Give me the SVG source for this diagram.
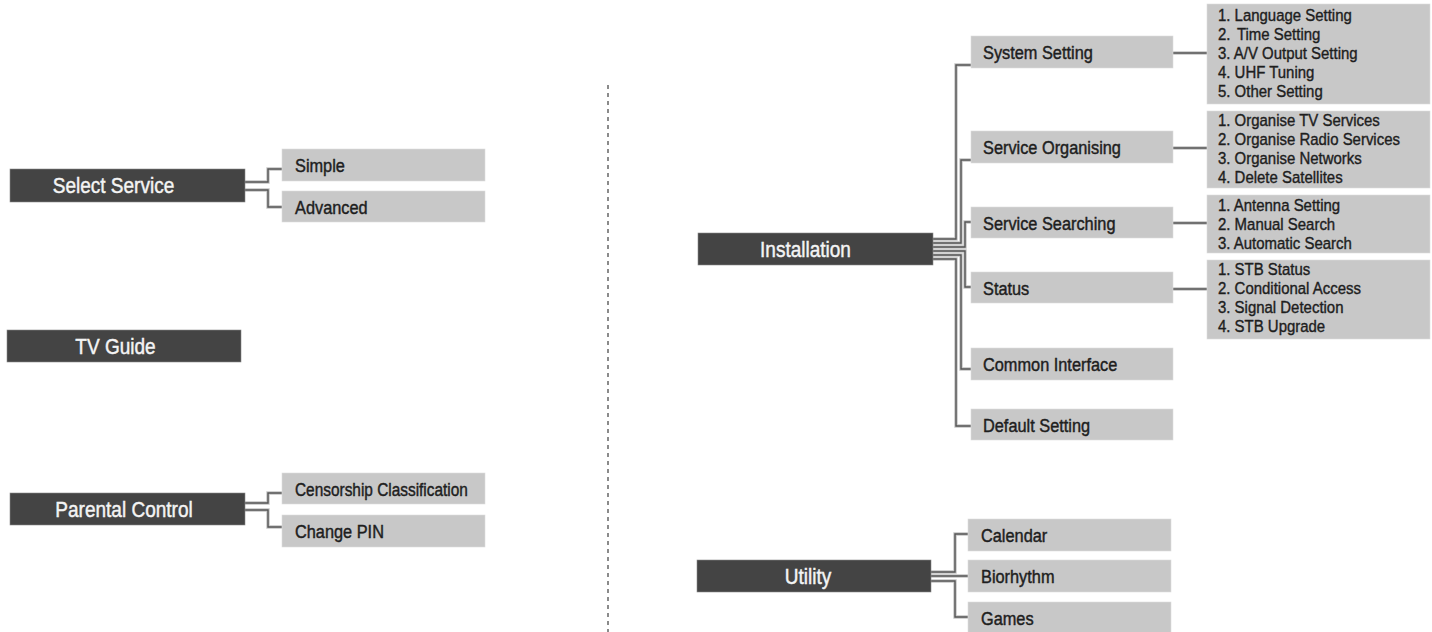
<svg xmlns="http://www.w3.org/2000/svg" width="1432" height="632" viewBox="0 0 1432 632">
<style>
.dk{fill:#444;stroke:#8a8a8a;stroke-width:.6}
.lt{fill:#c8c8c8;stroke:#dcdcdc;stroke-width:.6}
.w{font-family:"Liberation Sans",Arial,sans-serif;font-size:22px;fill:#f4f4f4;stroke:#f4f4f4;stroke-width:.45;text-anchor:middle}
.b{font-family:"Liberation Sans",Arial,sans-serif;font-size:19px;fill:#1e1e1e;stroke:#1e1e1e;stroke-width:.45}
.li{font-family:"Liberation Sans",Arial,sans-serif;font-size:17px;fill:#1e1e1e;stroke:#1e1e1e;stroke-width:.4}
.halo{fill:none;stroke:#c4c4c4;stroke-width:3.4}
.core{fill:none;stroke:#555;stroke-width:1.4}
</style>
<defs>
<g id="conpaths">
<path d="M245,182H268V169H282M245,190H268V207H282"/>
<path d="M245,503H268V493H282M245,510H268V527H282"/>
<path d="M933,239H956V65H971M933,243H961V160H971M933,247H965V222H971M933,251H965V287H971M933,255H961V369H971M933,259H956V426H971"/>
<path d="M931,572H955V534H968M931,576H968M931,581H955V617H968"/>
<path d="M1173,53H1207M1173,148H1207M1173,223H1207M1173,289H1207"/>
</g>
</defs>
<g id="connectors">
<use href="#conpaths" class="halo"/>
<use href="#conpaths" class="core"/>
<line x1="608" y1="85" x2="608" y2="632" stroke="#666" stroke-width="1.5" stroke-dasharray="4 4"/>
</g>
<g id="select-service"><rect class="dk" x="10" y="169" width="235" height="33"/><text class="w" transform="translate(113.5,193) scale(.865,1)">Select Service</text></g>
<g id="simple"><rect class="lt" x="282" y="149" width="203" height="32"/><text class="b" transform="translate(295,172) scale(.86,1)">Simple</text></g>
<g id="advanced"><rect class="lt" x="282" y="191" width="203" height="31"/><text class="b" transform="translate(295,214) scale(.86,1)">Advanced</text></g>
<g id="tv-guide"><rect class="dk" x="7" y="330" width="234" height="32"/><text class="w" transform="translate(115.5,354) scale(.865,1)">TV Guide</text></g>
<g id="parental-control"><rect class="dk" x="10" y="493" width="235" height="32"/><text class="w" transform="translate(124,517) scale(.865,1)">Parental Control</text></g>
<g id="censorship"><rect class="lt" x="282" y="473" width="203" height="31"/><text class="b" transform="translate(295,496) scale(.86,1)" textLength="201" lengthAdjust="spacingAndGlyphs">Censorship Classification</text></g>
<g id="change-pin"><rect class="lt" x="282" y="515" width="203" height="32"/><text class="b" transform="translate(295,538) scale(.86,1)">Change PIN</text></g>
<g id="installation"><rect class="dk" x="698" y="233" width="235" height="32"/><text class="w" transform="translate(805.5,257) scale(.865,1)">Installation</text></g>
<g id="system-setting"><rect class="lt" x="971" y="36" width="202" height="32"/><text class="b" transform="translate(983,59) scale(.86,1)">System Setting</text></g>
<g id="service-organising"><rect class="lt" x="971" y="131" width="202" height="32"/><text class="b" transform="translate(983,154) scale(.86,1)">Service Organising</text></g>
<g id="service-searching"><rect class="lt" x="971" y="207" width="202" height="31"/><text class="b" transform="translate(983,230) scale(.86,1)">Service Searching</text></g>
<g id="status"><rect class="lt" x="971" y="272" width="202" height="31"/><text class="b" transform="translate(983,295) scale(.86,1)">Status</text></g>
<g id="common-interface"><rect class="lt" x="971" y="348" width="202" height="32"/><text class="b" transform="translate(983,371) scale(.86,1)">Common Interface</text></g>
<g id="default-setting"><rect class="lt" x="971" y="409" width="202" height="31"/><text class="b" transform="translate(983,432) scale(.86,1)">Default Setting</text></g>
<g id="system-list"><rect class="lt" x="1207" y="4" width="223" height="100"/><text class="li" transform="translate(1218,0) scale(.88,1)"><tspan x="0" y="21">1. Language Setting</tspan><tspan x="0" y="40">2.<tspan dx="3"> Time Setting</tspan></tspan><tspan x="0" y="59">3. A/V Output Setting</tspan><tspan x="0" y="78">4. UHF Tuning</tspan><tspan x="0" y="97">5. Other Setting</tspan></text></g>
<g id="organising-list"><rect class="lt" x="1207" y="111" width="223" height="77"/><text class="li" transform="translate(1218,0) scale(.88,1)"><tspan x="0" y="126">1. Organise TV Services</tspan><tspan x="0" y="145">2. Organise Radio Services</tspan><tspan x="0" y="164">3. Organise Networks</tspan><tspan x="0" y="183">4. Delete Satellites</tspan></text></g>
<g id="searching-list"><rect class="lt" x="1207" y="195" width="223" height="58"/><text class="li" transform="translate(1218,0) scale(.88,1)"><tspan x="0" y="211">1. Antenna Setting</tspan><tspan x="0" y="230">2. Manual Search</tspan><tspan x="0" y="249">3. Automatic Search</tspan></text></g>
<g id="status-list"><rect class="lt" x="1207" y="260" width="223" height="79"/><text class="li" transform="translate(1218,0) scale(.88,1)"><tspan x="0" y="275">1. STB Status</tspan><tspan x="0" y="294">2. Conditional Access</tspan><tspan x="0" y="313">3. Signal Detection</tspan><tspan x="0" y="332">4. STB Upgrade</tspan></text></g>
<g id="utility"><rect class="dk" x="697" y="560" width="234" height="32"/><text class="w" transform="translate(808,584) scale(.865,1)">Utility</text></g>
<g id="calendar"><rect class="lt" x="968" y="519" width="203" height="32"/><text class="b" transform="translate(981,542) scale(.86,1)">Calendar</text></g>
<g id="biorhythm"><rect class="lt" x="968" y="560" width="203" height="32"/><text class="b" transform="translate(981,583) scale(.86,1)">Biorhythm</text></g>
<g id="games"><rect class="lt" x="968" y="602" width="203" height="32"/><text class="b" transform="translate(981,625) scale(.86,1)">Games</text></g>
</svg>
